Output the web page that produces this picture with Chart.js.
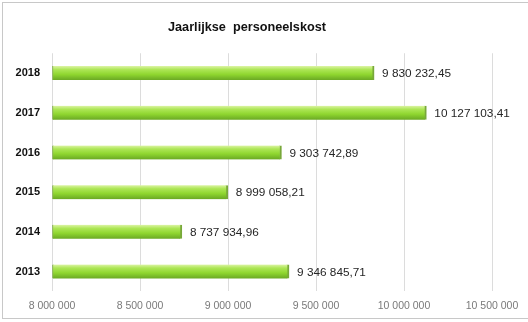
<!DOCTYPE html>
<html>
<head>
<meta charset="utf-8">
<script src="https://cdn.jsdelivr.net/npm/chart.js@4"></script>
<style>
html,body{margin:0;padding:0;background:#fff;}
#wrap{position:absolute;left:0;top:0;width:528px;height:322px;}
</style>
</head>
<body>
<div id="wrap"><canvas id="c" width="528" height="322"></canvas></div>
<script>
const categories = ["2018", "2017", "2016", "2015", "2014", "2013"];
const values = [9830232.45, 10127103.41, 9303742.89, 8999058.21, 8737934.96, 9346845.71];
const tickValues = [8000000, 8500000, 9000000, 9500000, 10000000, 10500000];
const titleText = "Jaarlijkse  personeelskost";

function groupDigits(intStr){
  return intStr.replace(/\B(?=(\d{3})+(?!\d))/g, " ");
}
function fmtValue(v){
  const parts = v.toFixed(2).split(".");
  return groupDigits(parts[0]) + "," + parts[1];
}
function fmtTick(v){
  return groupDigits(String(Math.round(v)));
}

const frameAndLabels = {
  id: "frameAndLabels",
  beforeDraw(chart){
    const ctx = chart.ctx;
    ctx.save();
    ctx.strokeStyle = "#c8c8c8";
    ctx.lineWidth = 1;
    ctx.strokeRect(2.5, 2.5, 530, 316);
    ctx.restore();
  },
  afterDatasetsDraw(chart){
    const ctx = chart.ctx;
    const meta = chart.getDatasetMeta(0);
    ctx.save();
    ctx.font = "11.8px 'Liberation Sans', Arial, sans-serif";
    ctx.fillStyle = "#262626";
    ctx.textBaseline = "middle";
    ctx.textAlign = "left";
    meta.data.forEach((bar, i) => {
      ctx.fillText(fmtValue(values[i]), bar.x + 8, bar.y + 1);
    });
    ctx.restore();
  }
};

function barFill(context){
  const chart = context.chart;
  const y = chart.scales && chart.scales.y;
  if (!y || context.dataIndex === undefined) return "#94d83a";
  const cy = y.getPixelForValue(context.dataIndex);
  if (!isFinite(cy)) return "#94d83a";
  const g = chart.ctx.createLinearGradient(0, cy - 7, 0, cy + 7);
  g.addColorStop(0, "#dcf4a4");
  g.addColorStop(0.25, "#ade656");
  g.addColorStop(0.6, "#8fd62f");
  g.addColorStop(1, "#6aa824");
  return g;
}

new Chart(document.getElementById("c"), {
  type: "bar",
  data: {
    labels: categories,
    datasets: [{
      data: values,
      backgroundColor: barFill,
      borderColor: "#78a83a",
      borderWidth: {top: 0, right: 2, bottom: 0, left: 1},
      borderSkipped: false,
      barThickness: 14,
      base: 8000000
    }]
  },
  options: {
    indexAxis: "y",
    responsive: false,
    animation: false,
    layout: {padding: {left: 2, right: 36, top: 0, bottom: 2}},
    plugins: {
      legend: {display: false},
      tooltip: {enabled: false},
      title: {
        display: true,
        text: titleText,
        color: "#111",
        font: {family: "'Liberation Sans', Arial, sans-serif", size: 12.7, weight: "bold"},
        padding: {top: 20, bottom: 18}
      }
    },
    scales: {
      x: {
        min: 8000000,
        max: 10500000,
        afterBuildTicks: s => { s.ticks = tickValues.map(v => ({value: v})); },
        ticks: {
          callback: v => fmtTick(v),
          color: "#7a7a7a",
          font: {family: "'Liberation Sans', Arial, sans-serif", size: 10.5},
          padding: 8,
          maxRotation: 0
        },
        grid: {color: "#dcdcdc", drawTicks: false},
        border: {display: false}
      },
      y: {
        afterFit: s => { s.width = 50; },
        ticks: {
          color: "#111",
          font: {family: "'Liberation Sans', Arial, sans-serif", size: 11, weight: "bold"},
          padding: 4
        },
        grid: {display: false},
        border: {display: false}
      }
    }
  },
  plugins: [frameAndLabels]
});
</script>
</body>
</html>
